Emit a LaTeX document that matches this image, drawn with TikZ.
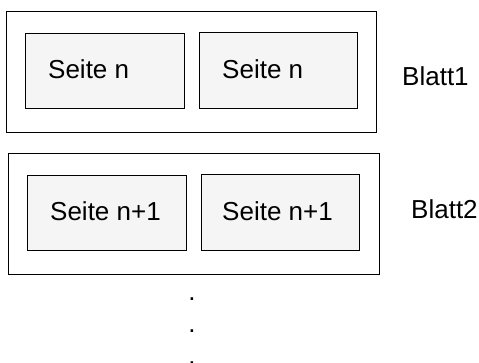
\documentclass[tikz,border=0pt]{standalone}
\usepackage{fontspec}
\setmainfont{Liberation Sans}
\begin{document}
\begin{tikzpicture}[x=1pt,y=-1pt,
  blatt/.style={draw=black,line width=1pt,fill=white},
  seite/.style={draw=black,line width=1pt,fill=pagegray},
  lbl/.style={anchor=base west,inner sep=0pt,font=\fontsize{26}{31}\selectfont},
  dot/.style={anchor=base,inner sep=0pt,font=\fontsize{26}{31}\selectfont}]
\definecolor{pagegray}{HTML}{F5F5F5}
\useasboundingbox (0,0) rectangle (479,362);
% sheet 1
\draw[blatt] (6,11) rectangle (376,132);
\draw[seite] (25,33) rectangle (184,108);
\draw[seite] (199,32) rectangle (357,108);
\node[lbl] (s1) at (48,78) {Seite n};
\node[lbl] (s2) at (222,78) {Seite n};
\node[lbl] (b1) at (402,85) {Blatt1};
% sheet 2
\draw[blatt] (8,153) rectangle (379,274);
\draw[seite] (27,175) rectangle (186,250);
\draw[seite] (201,174) rectangle (359,250);
\node[lbl] (s3) at (50,220) {Seite n+1};
\node[lbl] (s4) at (222,220) {Seite n+1};
\node[lbl] (b2) at (411,218) {Blatt2};
% continuation dots
\node[dot] (d1) at (192,300) {.};
\node[dot] (d2) at (192,332) {.};
\node[dot] (d3) at (192,364) {.};
\end{tikzpicture}
\end{document}
